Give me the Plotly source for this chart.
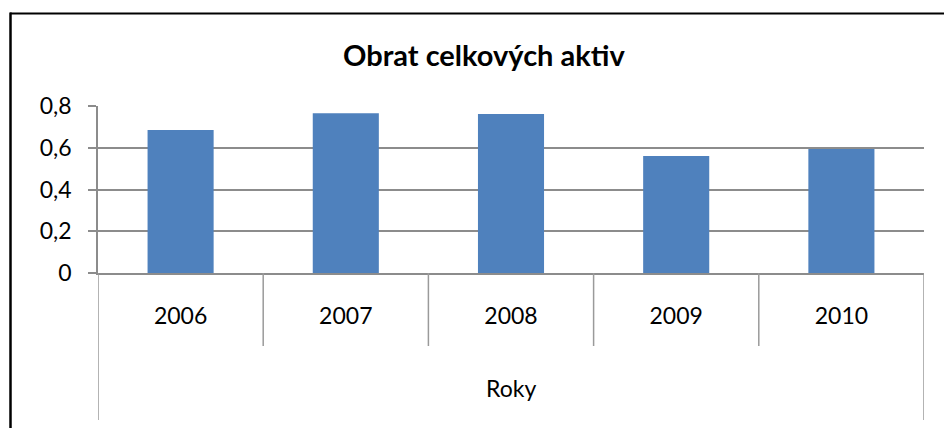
import plotly.graph_objects as go

years = ["2006", "2007", "2008", "2009", "2010"]
values = [0.685, 0.765, 0.762, 0.560, 0.594]
y_tickvals = [0, 0.2, 0.4, 0.6, 0.8]
y_ticktext = ["0", "0,2", "0,4", "0,6", "0,8"]
title_text = "Obrat celkových aktiv"
axis_title = "Roky"

W, H = 944, 428
L, R, T, B = 98, 20, 106, 155
PW, PH = W - L - R, H - T - B

def px(x):
    return (x - L) / PW

def py(y):
    return (H - B - y) / PH

FONT = "Lato"
GRID = "#8c8c8c"
SEP = "#9a9a9a"

fig = go.Figure(go.Bar(x=years, y=values, marker=dict(color="#4f81bd", line=dict(width=0)),
                       hoverinfo="skip"))

shapes = []
for i in range(len(years) + 1):
    xb = i - 0.5
    y_end = 420 if i in (0, len(years)) else 346
    shapes.append(dict(type="line", xref="x", yref="paper", x0=xb, x1=xb,
                       y0=0, y1=py(y_end), line=dict(color=SEP, width=1.5)))
shapes.append(dict(type="line", xref="paper", yref="paper", x0=px(10), x1=px(W + 5),
                   y0=py(13.5), y1=py(13.5), line=dict(color="#000000", width=2)))
shapes.append(dict(type="line", xref="paper", yref="paper", x0=px(10.5), x1=px(10.5),
                   y0=py(12.5), y1=py(H + 5), line=dict(color="#000000", width=2.5)))

fig.update_layout(
    width=W, height=H,
    margin=dict(l=L, r=R, t=T, b=B, autoexpand=False),
    paper_bgcolor="white", plot_bgcolor="white",
    showlegend=False,
    bargap=0.6,
    font=dict(family=FONT, size=23, color="#000000"),
    shapes=shapes,
    annotations=[
        dict(text="<b>" + title_text + "</b>", xref="paper", yref="paper",
             x=px(484), y=py(54), xanchor="center", yanchor="middle",
             showarrow=False, font=dict(family=FONT, size=29, color="#000000")),
        dict(text=axis_title, xref="paper", yref="paper",
             x=px(511), y=py(388), xanchor="center", yanchor="middle",
             showarrow=False, font=dict(family=FONT, size=23, color="#000000")),
    ],
)

fig.update_xaxes(type="category", range=[-0.5, len(years) - 0.5], showgrid=False,
                 showline=True, linecolor=GRID, linewidth=1.5, ticks="",
                 ticklabelstandoff=22, tickfont=dict(family=FONT, size=23),
                 fixedrange=True)
fig.update_yaxes(range=[0, 0.8], tickvals=y_tickvals, ticktext=y_ticktext,
                 showgrid=True, gridcolor=GRID, gridwidth=1.5,
                 showline=True, linecolor=GRID, linewidth=1.5,
                 ticks="outside", ticklen=8, tickcolor=GRID, tickwidth=1.5,
                 ticklabelstandoff=12, zeroline=False,
                 tickfont=dict(family=FONT, size=23), fixedrange=True)

fig.write_html("out.html", config={"displayModeBar": False},
               post_script="document.body.style.margin='0';document.body.style.overflow='hidden';")
